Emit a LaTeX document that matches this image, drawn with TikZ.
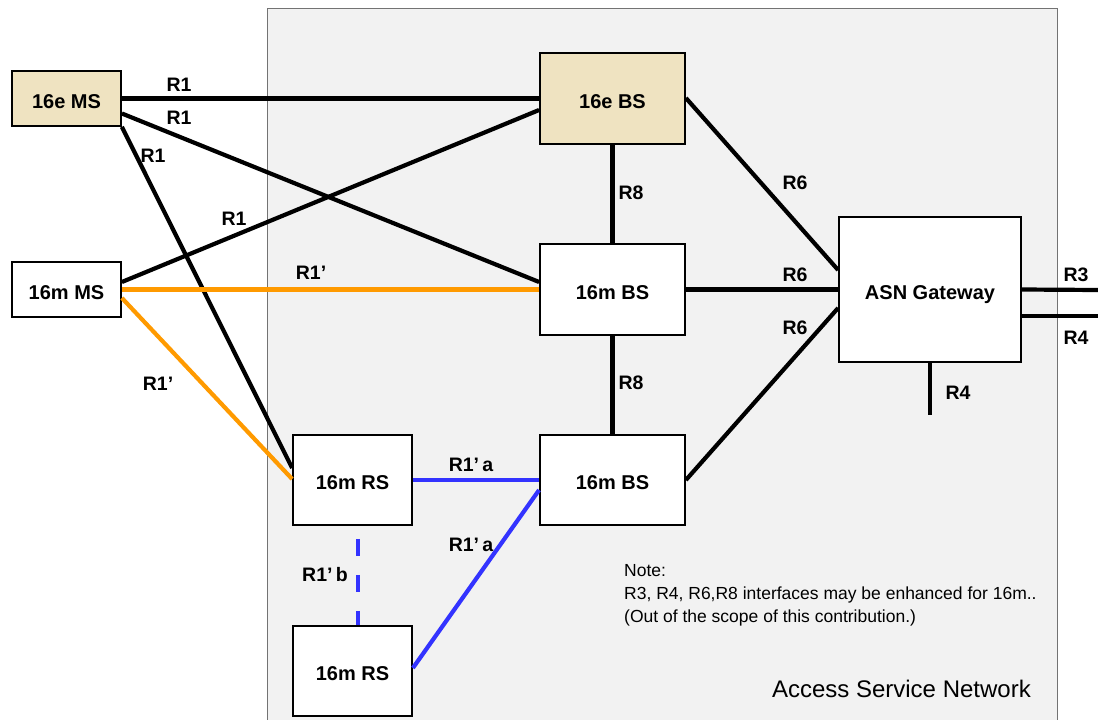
\documentclass[tikz,border=0pt]{standalone}
\usepackage{fontspec}
\setmainfont{Liberation Sans}
\begin{document}
\begin{tikzpicture}[x=1pt,y=-1pt,
  box/.style={draw=black,line width=1.8pt,fill=white,minimum width=#1,
    font=\fontsize{20}{22}\selectfont\bfseries,inner sep=0pt,
    text height=19.5pt,text depth=0pt},
  box/.default=109pt,
  lbl/.style={font=\fontsize{19.5}{21}\selectfont\bfseries,inner sep=0pt},
  link/.style={line width=4.2pt,black},
  olink/.style={line width=4.2pt,color=linkorange},
  blink/.style={line width=4.2pt,color=linkblue},
]
\definecolor{beige}{HTML}{EFE3C1}
\definecolor{asnbg}{HTML}{F2F2F2}
\definecolor{linkorange}{HTML}{FF9A00}
\definecolor{linkblue}{HTML}{3333FF}
\useasboundingbox (0,0) rectangle (1098,720);

% access service network area
\draw[fill=asnbg,draw=black!55,line width=1pt] (267,8) -- (1057,8) -- (1057,725) -- (267,725) -- cycle;

% stations
\node[box=109pt,minimum height=55pt,fill=beige] (ems) at (66.5,98.5) {16e MS};
\node[box=109pt,minimum height=55pt] (mms) at (66.5,289.5) {16m MS};
\node[box=145pt,minimum height=91pt,fill=beige] (ebs) at (612.5,98.5) {16e BS};
\node[box=145pt,minimum height=91pt] (mbs) at (612.5,289.5) {16m BS};
\node[box=145pt,minimum height=90pt] (lbs) at (612.5,480) {16m BS};
\node[box=119pt,minimum height=90pt] (rsu) at (352.5,480) {16m RS};
\node[box=119pt,minimum height=90pt] (rsl) at (352.5,671) {16m RS};
\node[box=182pt,minimum height=145pt] (asn) at (930,289.5) {ASN Gateway};

% free ends of the external interfaces
\coordinate (r3end) at (1098,290);
\coordinate (r4end) at (1098,316);
\coordinate (r4down) at (930,415);

% R1 links
\draw[link] (ems.east) -- (ebs.west);
\draw[link] ([yshift=-15pt]ems.east) -- ([yshift=7.5pt]mbs.west);
\draw[link] (ems.south east) -- ([yshift=12pt]rsu.west);
\draw[link] ([yshift=7.5pt]mms.east) -- ([yshift=-11.5pt]ebs.west);

% R1' links
\draw[olink] (mms.east) -- (mbs.west);
\draw[olink] ([yshift=-8.5pt]mms.east) -- ([yshift=1pt]rsu.west);

% R8 links
\draw[link] (ebs.south) -- (mbs.north);
\draw[link] (mbs.south) -- (lbs.north);

% R6 links
\draw[link] ([yshift=0.5pt]ebs.east) -- ([yshift=19.5pt]asn.west);
\draw[link] (mbs.east) -- (asn.west);
\draw[link] (lbs.east) -- ([yshift=-18.5pt]asn.west);

% R3 / R4
\draw[link] (asn.east) -- (r3end);
\draw[link] ([yshift=-26.5pt]asn.east) -- (r4end);
\draw[link] (asn.south) -- (r4down);

% R1'a / R1'b links
\draw[blink] (rsu.east) -- (lbs.west);
\draw[blink] ([yshift=3pt]rsl.east) -- ([yshift=-10pt]lbs.west);
\draw[blink,dash pattern=on 17pt off 19pt] ([xshift=5.5pt,yshift=-13pt]rsu.south) -- ([xshift=5.5pt]rsl.north);

% interface labels
\node[lbl] (l1) at (179,85) {R1};
\node[lbl] (l2) at (179,118) {R1};
\node[lbl] (l3) at (153,156) {R1};
\node[lbl] (l4) at (234,219) {R1};
\node[lbl] (l5) at (311,273) {R1’};
\node[lbl] (l6) at (158,384) {R1’};
\node[lbl] (l7) at (631,193) {R8};
\node[lbl] (l8) at (631,383) {R8};
\node[lbl] (l9) at (795,183) {R6};
\node[lbl] (l10) at (795,275) {R6};
\node[lbl] (l11) at (795,328) {R6};
\node[lbl] (l12) at (1076,275) {R3};
\node[lbl] (l13) at (1076,338) {R4};
\node[lbl] (l14) at (958,393) {R4};
\node[lbl] (l15) at (471,465) {R1’\,a};
\node[lbl] (l16) at (471,545) {R1’\,a};
\node[lbl] (l17) at (325,575) {R1’\,b};

% note and area title
\node[anchor=north west,align=left,inner sep=0pt,
  font=\fontsize{17.5}{23}\selectfont] (note) at (624,564)
  {Note:\\R3, R4, R6,R8 interfaces may be enhanced for 16m..\\(Out of the scope of this contribution.)};
\node[anchor=east,inner sep=0pt,font=\fontsize{24}{26}\selectfont] (title) at (1031,689) {Access Service Network};
\end{tikzpicture}
\end{document}
